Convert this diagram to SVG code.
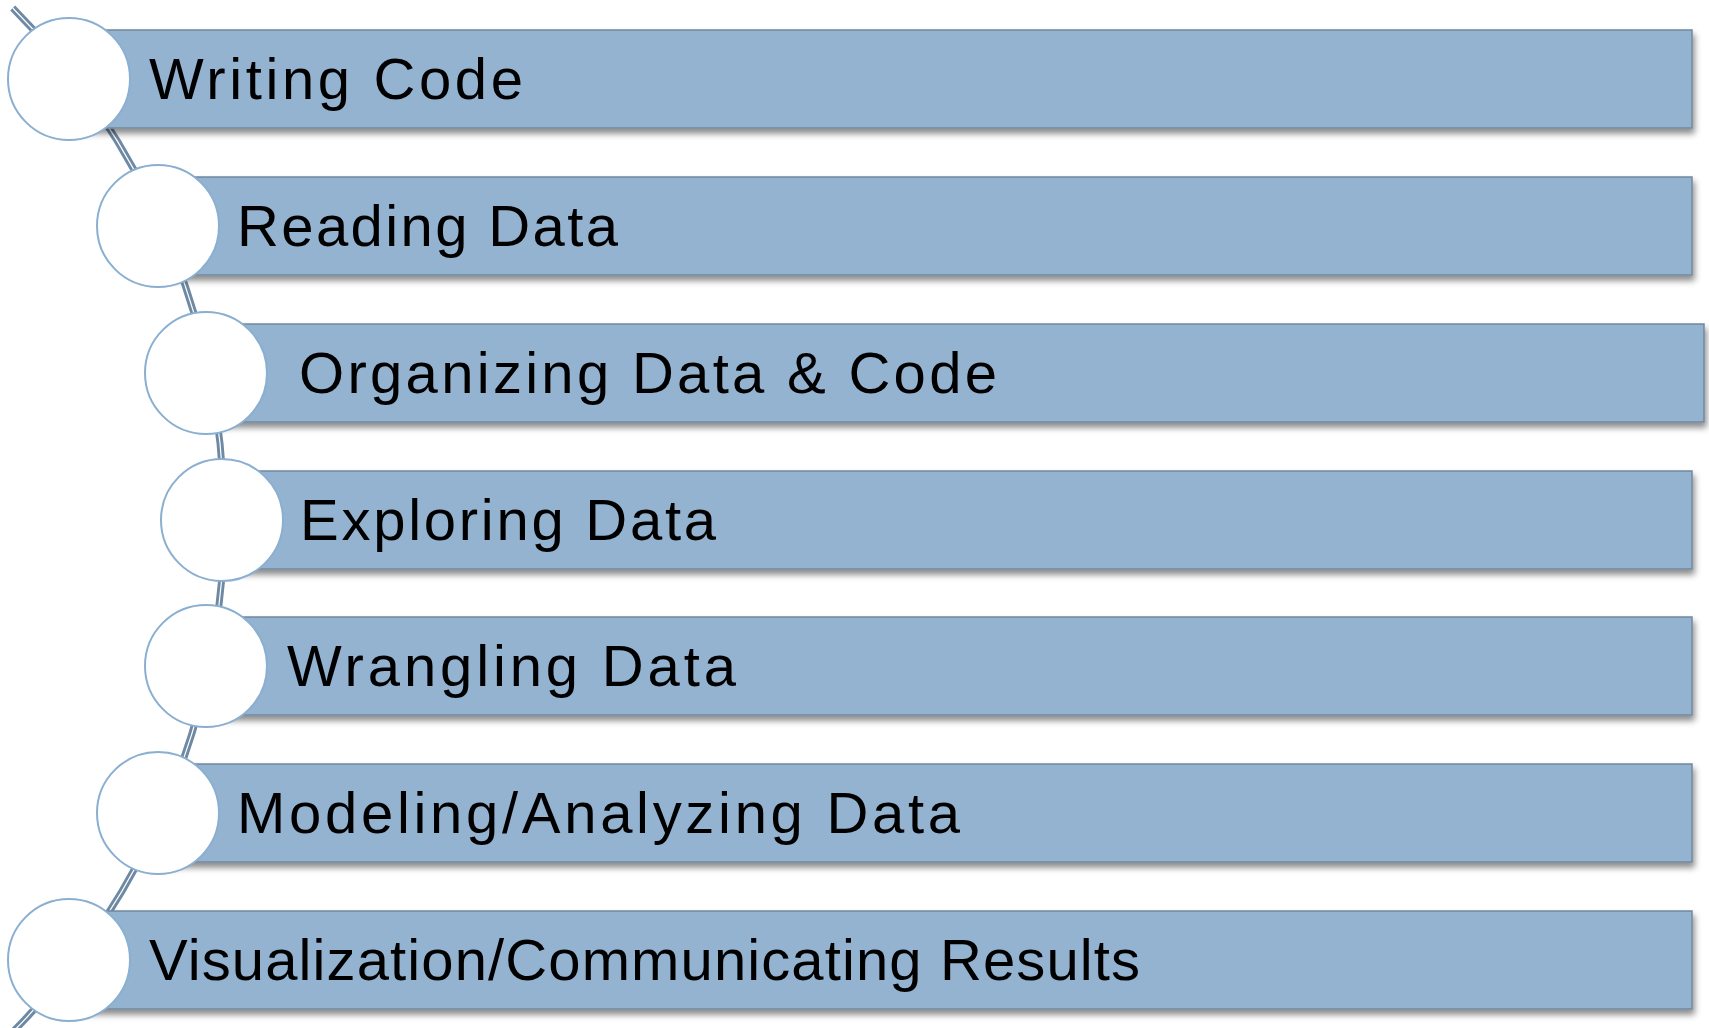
<svg xmlns="http://www.w3.org/2000/svg" width="1709" height="1028" viewBox="0 0 1709 1028">
<defs>
<filter id="sh" x="-5%" y="-20%" width="110%" height="160%">
<feDropShadow dx="2" dy="5" stdDeviation="3" flood-color="#000" flood-opacity="0.45"/>
</filter>
<style>
.bar{fill:#93b3d1;stroke:#72889e;stroke-width:1.5;filter:url(#sh)}
.dot{fill:#ffffff;stroke:#8aafd0;stroke-width:2}
.lbl{font-family:"Liberation Sans",Arial,sans-serif;font-size:58px;fill:#000}
</style>
</defs>
<rect width="1709" height="1028" fill="#ffffff"/>
<g id="connectors">
<path d="M 12.7 8 A 726 726 0 0 1 12.7 1032" fill="none" stroke="#6e89a3" stroke-width="7"/>
<path d="M 12.7 8 A 726 726 0 0 1 12.7 1032" fill="none" stroke="#ffffff" stroke-width="1.2"/>
</g>
<g id="n1"><rect class="bar" x="69" y="30" width="1623" height="98"/><circle class="dot" cx="69" cy="79" r="61"/><text class="lbl" x="149" y="99" textLength="374" lengthAdjust="spacing">Writing Code</text></g>
<g id="n2"><rect class="bar" x="158" y="177" width="1534" height="98"/><circle class="dot" cx="158" cy="226" r="61"/><text class="lbl" x="237" y="246" textLength="381" lengthAdjust="spacing">Reading Data</text></g>
<g id="n3"><rect class="bar" x="206" y="324" width="1498" height="98"/><circle class="dot" cx="206" cy="373" r="61"/><text class="lbl" x="299" y="393" textLength="698" lengthAdjust="spacing">Organizing Data &amp; Code</text></g>
<g id="n4"><rect class="bar" x="222" y="471" width="1470" height="98"/><circle class="dot" cx="222" cy="520" r="61"/><text class="lbl" x="300" y="540" textLength="416" lengthAdjust="spacing">Exploring Data</text></g>
<g id="n5"><rect class="bar" x="206" y="617" width="1486" height="98"/><circle class="dot" cx="206" cy="666" r="61"/><text class="lbl" x="287" y="686" textLength="449" lengthAdjust="spacing">Wrangling Data</text></g>
<g id="n6"><rect class="bar" x="158" y="764" width="1534" height="98"/><circle class="dot" cx="158" cy="813" r="61"/><text class="lbl" x="237" y="833" textLength="723" lengthAdjust="spacing">Modeling/Analyzing Data</text></g>
<g id="n7"><rect class="bar" x="69" y="911" width="1623" height="98"/><circle class="dot" cx="69" cy="960" r="61"/><text class="lbl" x="149" y="980" textLength="991" lengthAdjust="spacing">Visualization/Communicating Results</text></g>
</svg>
